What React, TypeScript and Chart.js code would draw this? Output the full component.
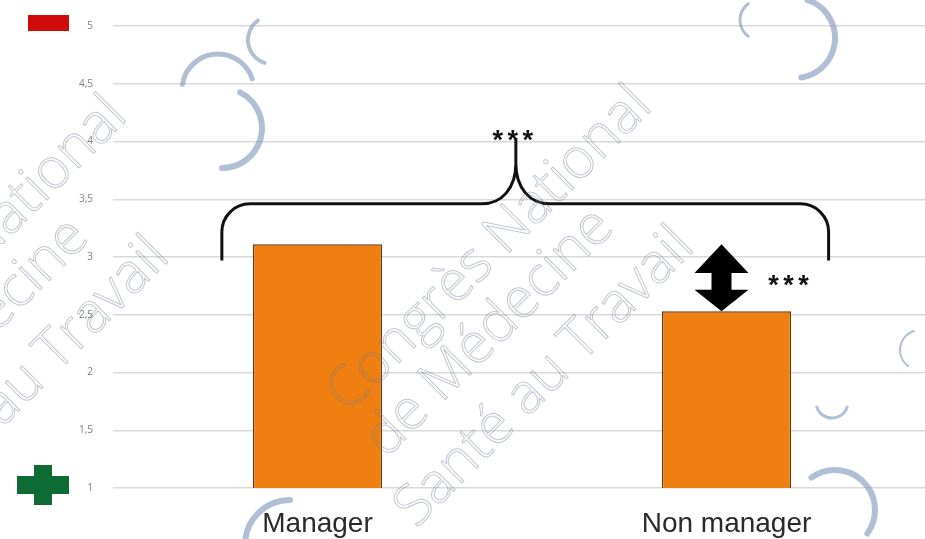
import React, { useEffect, useRef } from "react";
import { Chart, registerables } from "chart.js";

Chart.register(...registerables);

// ---- data ----
const categories: string[] = ["Manager", "Non manager"];
const meanScores: number[] = [3.11, 2.53];
const yAxisMin = 1;
const yAxisMax = 5;
const yAxisStep = 0.5;
const groupSignificance = "***";
const diffSignificance = "***";
// brace annotation levels (in axis units)
const braceLevel = 3.46;
const braceEndLevel = 2.97;
const braceTipLevel = 4.03;
const watermarkLines: string[] = ["Congrès National", "de Médecine", "Santé au Travail"];

function drawStars(ctx: CanvasRenderingContext2D, text: string, cx: number, cy: number) {
  ctx.save();
  ctx.fillStyle = "#111";
  ctx.font = "bold 27px 'Liberation Sans', Arial, sans-serif";
  ctx.textAlign = "center";
  ctx.textBaseline = "alphabetic";
  const n = text.length;
  const gap = 15;
  for (let i = 0; i < n; i++) {
    const x = cx + (i - (n - 1) / 2) * gap;
    ctx.fillText(text[i], x, cy + 16);
  }
  ctx.restore();
}

const annotationPlugin = {
  id: "annotationPlugin",
  afterDatasetsDraw(chart: any) {
    const ctx: CanvasRenderingContext2D = chart.ctx;
    const y = chart.scales.y;
    const bars = chart.getDatasetMeta(0).data;
    const b0 = bars[0];
    const b1 = bars[1];
    const w = b0.width;
    const L = b0.x - w * 0.74;
    const R = b1.x + w * 0.79;
    const M = b0.x + (b1.x - b0.x) * 0.485;
    const yH = y.getPixelForValue(braceLevel);
    const yE = y.getPixelForValue(braceEndLevel);
    const yT = y.getPixelForValue(braceTipLevel);
    const r = 28;

    // curly brace
    ctx.save();
    ctx.strokeStyle = "#111";
    ctx.lineWidth = 3;
    ctx.lineJoin = "round";
    ctx.lineCap = "butt";
    ctx.beginPath();
    ctx.moveTo(L, yE);
    ctx.lineTo(L, yH + r);
    ctx.bezierCurveTo(L, yH + r * 0.45, L + r * 0.45, yH, L + r, yH);
    ctx.lineTo(M - 34, yH);
    ctx.bezierCurveTo(M - 14, yH, M, yH - 16, M, yH - 40);
    ctx.lineTo(M, yT);
    ctx.moveTo(M, yH - 40);
    ctx.bezierCurveTo(M, yH - 16, M + 14, yH, M + 34, yH);
    ctx.lineTo(R - r, yH);
    ctx.bezierCurveTo(R - r * 0.45, yH, R, yH + r * 0.45, R, yH + r);
    ctx.lineTo(R, yE);
    ctx.stroke();
    ctx.restore();

    drawStars(ctx, groupSignificance, M - 3, yT - 5);

    // double arrow between the two means, above the second bar
    const ax = b1.x - 5;
    const top = y.getPixelForValue(meanScores[0]);
    const bot = y.getPixelForValue(meanScores[1]);
    const h = bot - top;
    const headTop = h * 0.43;
    const headBot = h * 0.32;
    const hw = 27;
    const sw = 10;
    ctx.save();
    ctx.fillStyle = "#000";
    ctx.beginPath();
    ctx.moveTo(ax, top);
    ctx.lineTo(ax + hw, top + headTop);
    ctx.lineTo(ax + sw, top + headTop);
    ctx.lineTo(ax + sw, bot - headBot);
    ctx.lineTo(ax + hw, bot - headBot);
    ctx.lineTo(ax, bot);
    ctx.lineTo(ax - hw, bot - headBot);
    ctx.lineTo(ax - sw, bot - headBot);
    ctx.lineTo(ax - sw, top + headTop);
    ctx.lineTo(ax - hw, top + headTop);
    ctx.closePath();
    ctx.fill();
    ctx.restore();

    drawStars(ctx, diffSignificance, b1.x + 62, (top + bot) / 2);
  },
  afterDraw(chart: any) {
    const ctx: CanvasRenderingContext2D = chart.ctx;
    const y = chart.scales.y;
    // minus (worse) / plus (better) markers
    const yTop = y.getPixelForValue(yAxisMax) - 3;
    const yBot = y.getPixelForValue(yAxisMin) - 3;
    ctx.save();
    ctx.fillStyle = "#d10a0a";
    ctx.fillRect(28, yTop - 8, 41, 16);
    ctx.fillStyle = "#0d6b34";
    ctx.fillRect(17, yBot - 9, 52, 18);
    ctx.fillRect(34, yBot - 20, 18, 40);
    ctx.restore();

    // watermark
    ctx.save();
    ctx.strokeStyle = "rgba(110,120,145,0.42)";
    ctx.lineWidth = 1;
    ctx.font = "300 56px 'Open Sans', sans-serif";
    ctx.textBaseline = "alphabetic";
    ctx.textAlign = "left";
    const starts = [
      [348, 414],
      [386, 459],
      [416, 529],
    ];
    const offsets = [
      [0, 0],
      [-525, 10],
    ];
    for (const [ox, oy] of offsets) {
      watermarkLines.forEach((t, i) => {
        ctx.save();
        ctx.translate(starts[i][0] + ox, starts[i][1] + oy);
        ctx.rotate(-Math.PI / 4);
        ctx.strokeText(t, 0, 0);
        ctx.restore();
      });
    }
    // logo arcs
    ctx.strokeStyle = "rgba(125,148,185,0.6)";
    ctx.lineCap = "round";
    const arcs: [number, number, number, number, number, number][] = [
      [218, 90, 36, 1.05 * Math.PI, 1.9 * Math.PI, 5],
      [222, 128, 40, 1.65 * Math.PI, 2.5 * Math.PI, 6],
      [272, 40, 24, 0.6 * Math.PI, 1.3 * Math.PI, 4],
      [795, 38, 40, 1.6 * Math.PI, 2.45 * Math.PI, 6],
      [760, 20, 20, 0.7 * Math.PI, 1.3 * Math.PI, 3],
      [835, 510, 40, 1.3 * Math.PI, 2.2 * Math.PI, 6],
      [290, 545, 45, 1.0 * Math.PI, 1.5 * Math.PI, 6],
      [832, 402, 16, 0.1 * Math.PI, 0.9 * Math.PI, 3],
      [920, 350, 20, 0.7 * Math.PI, 1.4 * Math.PI, 2],
    ];
    for (const [cx, cy, rr, a0, a1, lw] of arcs) {
      ctx.lineWidth = lw;
      ctx.beginPath();
      ctx.arc(cx, cy, rr, a0, a1);
      ctx.stroke();
    }
    ctx.restore();
  },
};

export default function App() {
  const canvasRef = useRef<HTMLCanvasElement | null>(null);

  useEffect(() => {
    document.body.style.margin = "0";
    const canvas = canvasRef.current;
    if (!canvas) return;
    const chart = new Chart(canvas, {
      type: "bar",
      data: {
        labels: categories,
        datasets: [
          {
            data: meanScores,
            backgroundColor: "#ee7f10",
            borderColor: "#6b3a0c",
            borderWidth: 1.5,
            barPercentage: 0.316,
            categoryPercentage: 1,
          },
        ],
      },
      options: {
        animation: false,
        responsive: true,
        maintainAspectRatio: false,
        layout: { padding: { top: 24, bottom: 0, left: 0, right: 0 } },
        plugins: {
          legend: { display: false },
          tooltip: { enabled: false },
          title: { display: false },
        },
        scales: {
          x: {
            afterFit(scale: any) {
              scale.height = 51;
            },
            grid: { display: false, drawTicks: false },
            border: { display: false },
            ticks: {
              color: "#2a2a2a",
              font: { family: "'Liberation Sans', Arial, sans-serif", size: 28 },
              padding: 19,
            },
          },
          y: {
            min: yAxisMin,
            max: yAxisMax,
            afterFit(scale: any) {
              scale.width = 113;
            },
            ticks: {
              stepSize: yAxisStep,
              color: "#7f7f7f",
              padding: 20,
              font: { family: "'Open Sans', sans-serif", size: 10 },
              callback: (v: any) => String(v).replace(".", ","),
            },
            grid: { color: "#d9d9d9", lineWidth: 1.5, drawTicks: false },
            border: { display: false },
          },
        },
      },
      plugins: [annotationPlugin],
    });
    return () => chart.destroy();
  }, []);

  return (
    <div
      style={{
        position: "fixed",
        left: 0,
        top: 0,
        width: 925,
        height: 539,
        overflow: "hidden",
        background: "#fff",
      }}
    >
      <div style={{ position: "relative", width: 931, height: 539 }}>
        <canvas ref={canvasRef} />
      </div>
    </div>
  );
}
